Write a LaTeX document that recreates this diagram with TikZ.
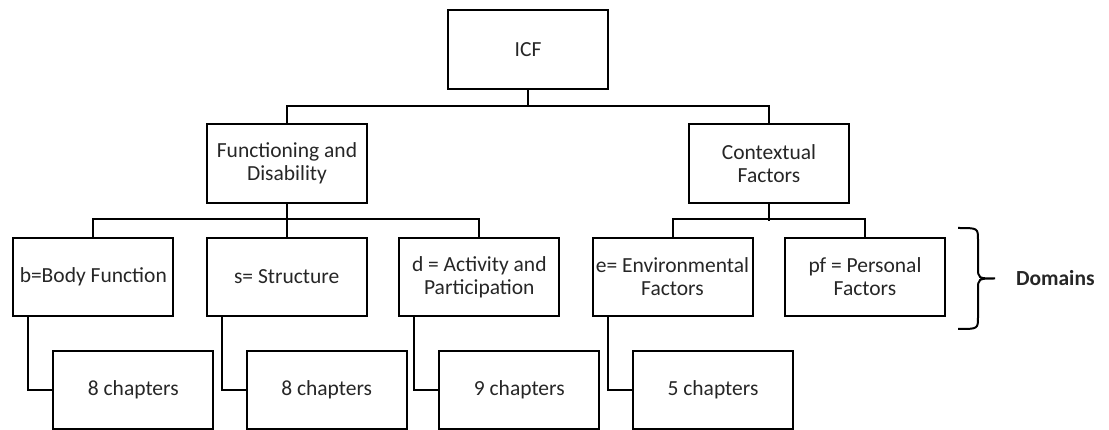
\documentclass[tikz,border=0pt]{standalone}
\usepackage{fontspec}
\setmainfont{Carlito}
\usepackage{tikz}

\begin{document}
\begin{tikzpicture}[x=1pt, y=-1pt, line width=2pt,
	box/.style={draw, rectangle, inner sep=0pt, align=center, minimum width=160pt, minimum height=79pt, text=black!85, font=\fontsize{21.5}{23}\selectfont},
	leaf/.style={box, minimum height=78pt}]
	\useasboundingbox (0,0) rectangle (1109,430);

	% top levels
	\node[box] (icf) at (528,50) {ICF};
	\node[box] (fd) at (287,163.5) {Functioning and\\Disability};
	\node[box] (cf) at (769,163.5) {Contextual\\Factors};

	% domains
	\node[leaf] (b) at (93.3,277) {b=Body Function};
	\node[leaf] (s) at (286.7,277) {s= Structure};
	\node[leaf] (d) at (479.3,277) {d = Activity and\\Participation};
	\node[leaf] (e) at (672.5,277) {e= Environmental\\Factors};
	\node[leaf] (pf) at (865,277) {pf = Personal\\Factors};

	% chapters
	\node[leaf] (bch) at (133.3,390) {8 chapters};
	\node[leaf] (sch) at (326.7,390) {8 chapters};
	\node[leaf] (dch) at (519.3,390) {9 chapters};
	\node[leaf] (ech) at (713,390) {5 chapters};

	\draw (icf.south) -- ++(0,17);
	\draw (fd.north) -- ++(0,-17) -| (cf.north);

	\draw (fd.south) -- ++(0,17);
	\draw (b.north) -- ++(0,-18) -| (d.north);
	\draw (s.north) -- ++(0,-18);
	\draw (cf.south) -- ++(0,17);
	\draw (e.north) -- ++(0,-18) -| (pf.north);

	\draw ([xshift=16pt]b.south west) |- (bch.west);
	\draw ([xshift=16pt]s.south west) |- (sch.west);
	\draw ([xshift=16pt]d.south west) |- (dch.west);
	\draw ([xshift=16pt]e.south west) |- (ech.west);

	% brace
	\coordinate (brtop) at (958,228);
	\coordinate (brtip) at (995,278.5);
	\coordinate (brbot) at (958,329);
	\draw (brtop) .. controls (978,228) .. (978,240) -- (978,267)
		.. controls (978,278.5) .. (brtip) .. controls (978,278.5) .. (978,290)
		-- (978,317) .. controls (978,329) .. (brbot);
	\node[anchor=west, inner sep=0pt, text=black!85, font=\fontsize{21.5}{23}\selectfont\bfseries] (dom) at (1015,278) {Domains};
\end{tikzpicture}
\end{document}
